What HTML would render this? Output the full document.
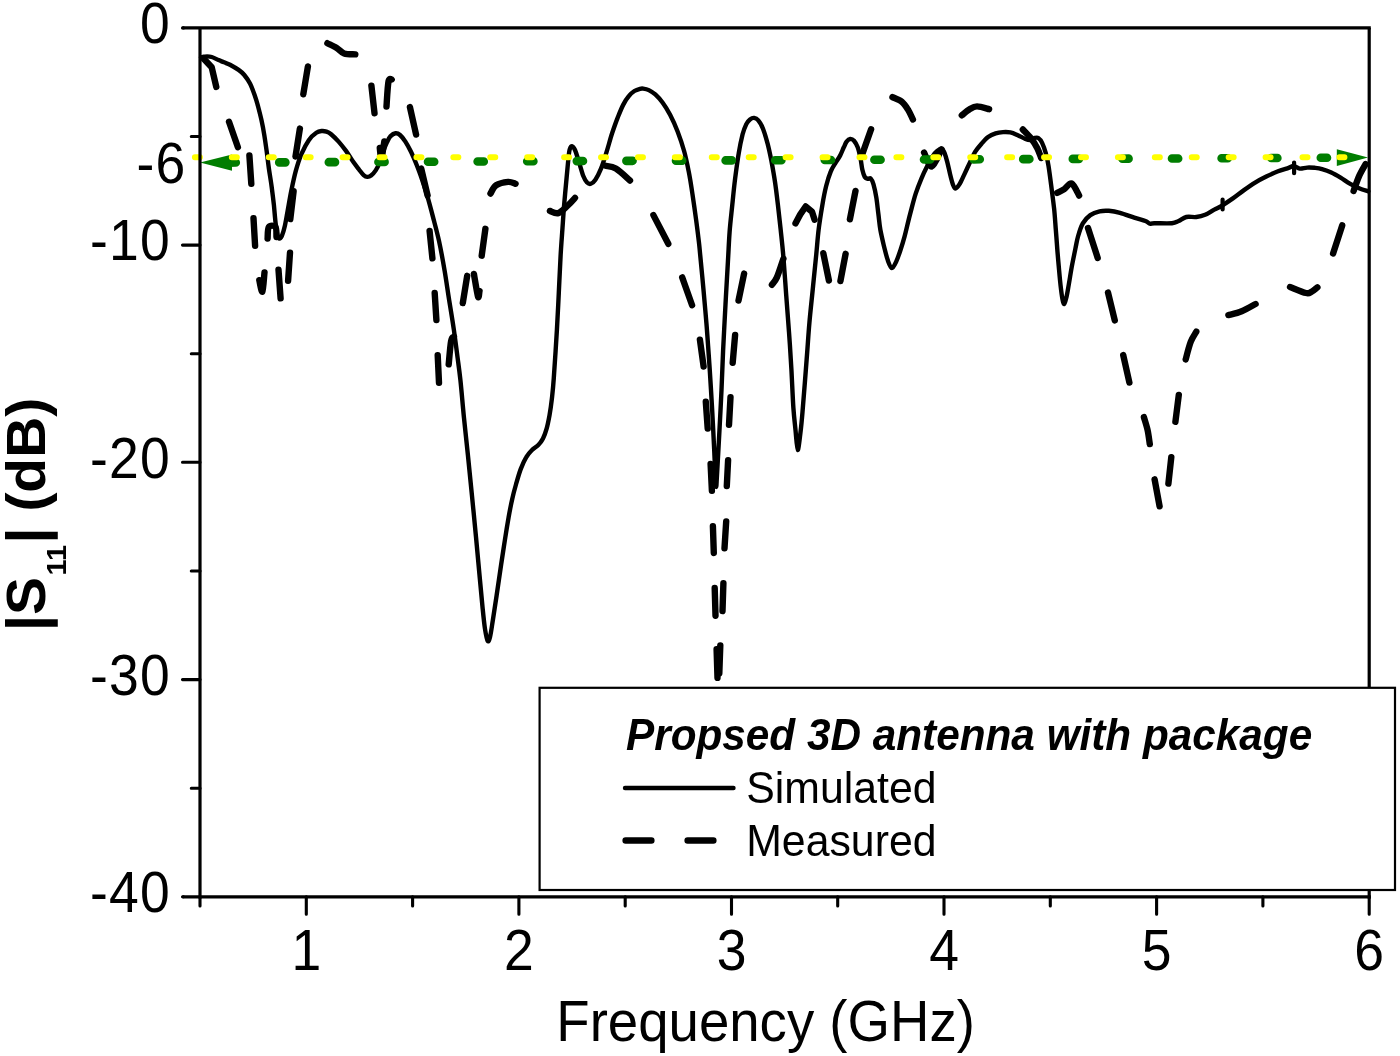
<!DOCTYPE html>
<html><head><meta charset="utf-8"><title>S11 plot</title>
<style>html,body{margin:0;padding:0;background:#fff}svg{display:block}text{font-family:"Liberation Sans",sans-serif;fill:#000}</style>
</head><body>
<svg width="1400" height="1056" viewBox="0 0 1400 1056">
<rect width="1400" height="1056" fill="#fff"/>
<g fill="none" stroke="#000" stroke-linecap="round" stroke-linejoin="round">
<path stroke-width="4.4" d="M201.0,57.3C201.5,57.2 203.0,56.9 204.0,56.7C205.0,56.6 205.8,56.4 207.1,56.4C208.4,56.4 209.8,56.4 211.7,57.0C213.6,57.6 216.5,59.2 218.6,60.1C220.7,61.0 222.1,61.5 224.0,62.3C225.9,63.1 227.6,63.4 230.0,64.7C232.4,66.0 236.2,68.2 238.6,69.9C241.0,71.6 242.4,72.7 244.3,75.0C246.2,77.3 248.3,80.3 250.0,83.6C251.7,86.9 253.3,91.4 254.6,95.0C255.9,98.6 256.7,101.2 257.8,105.4C258.9,109.6 260.4,115.3 261.5,120.3C262.6,125.2 263.5,130.2 264.3,135.1C265.1,140.0 265.7,144.4 266.5,150.0C267.3,155.6 268.0,162.4 268.9,168.6C269.8,174.8 270.9,181.0 271.7,187.1C272.5,193.2 273.2,199.0 273.9,205.0C274.5,211.0 275.0,218.0 275.6,222.9C276.2,227.8 276.7,231.9 277.3,234.5C277.9,237.1 278.5,238.4 279.3,238.6C280.1,238.8 281.0,237.8 281.9,235.8C282.8,233.8 283.8,230.6 284.7,226.6C285.6,222.6 286.4,217.6 287.5,211.7C288.6,205.8 289.8,198.1 291.2,191.3C292.6,184.5 294.1,177.1 295.8,170.9C297.5,164.7 299.2,159.2 301.4,154.1C303.6,149.0 306.3,143.8 308.8,140.2C311.3,136.6 314.1,134.3 316.3,132.8C318.5,131.3 320.1,131.2 321.8,131.0C323.5,130.8 324.9,131.1 326.5,131.6C328.1,132.1 329.1,132.5 331.1,134.2C333.1,135.9 336.1,138.8 338.6,141.6C341.1,144.4 343.5,147.5 346.0,150.9C348.5,154.3 351.2,159.0 353.4,162.1C355.6,165.2 357.3,167.3 359.0,169.5C360.7,171.7 362.2,173.9 363.6,175.1C365.0,176.3 366.1,176.8 367.3,176.9C368.6,177.0 369.7,176.7 371.1,175.6C372.5,174.5 374.3,172.5 375.7,170.4C377.1,168.3 378.2,166.1 379.4,163.0C380.6,159.9 381.9,155.2 383.1,151.8C384.3,148.4 385.6,145.2 386.8,142.6C388.1,140.0 389.2,137.6 390.6,136.1C392.1,134.6 393.9,133.5 395.5,133.3C397.1,133.1 398.4,133.6 400.0,135.0C401.6,136.4 403.6,138.8 405.4,141.6C407.2,144.4 409.1,147.9 411.0,151.8C412.9,155.7 414.8,160.2 416.6,164.8C418.5,169.5 420.2,174.3 422.1,179.7C424.0,185.1 425.8,190.9 427.7,197.4C429.6,203.9 431.5,211.3 433.4,218.6C435.3,225.8 437.1,232.2 439.0,240.9C440.9,249.6 442.9,260.7 444.6,270.6C446.3,280.5 447.6,290.4 449.2,300.3C450.8,310.2 452.5,320.4 453.9,330.0C455.3,339.6 456.5,349.5 457.6,357.8C458.7,366.1 459.3,370.0 460.4,380.0C461.5,390.0 462.7,405.3 464.0,418.0C465.3,430.7 466.7,443.0 468.0,456.0C469.3,469.0 470.7,482.5 472.0,496.0C473.3,509.5 474.8,523.8 476.0,537.0C477.2,550.2 478.4,563.3 479.5,575.0C480.6,586.7 481.6,598.0 482.5,607.0C483.4,616.0 484.1,623.3 485.0,629.0C485.9,634.7 486.8,639.7 487.7,641.0C488.6,642.3 489.2,640.1 490.1,636.6C491.0,633.1 491.8,626.7 492.9,619.9C494.0,613.1 495.2,605.0 496.6,595.7C498.0,586.4 499.8,573.4 501.2,564.1C502.6,554.8 503.7,547.8 504.9,540.0C506.1,532.2 507.4,524.3 508.6,517.4C509.8,510.5 511.0,504.4 512.3,498.8C513.5,493.2 514.7,488.9 516.1,484.0C517.5,479.1 519.0,473.6 520.7,469.1C522.4,464.6 524.4,460.2 526.3,457.1C528.1,454.0 529.8,452.2 531.8,450.2C533.8,448.2 536.4,446.9 538.3,445.0C540.2,443.1 541.6,441.3 543.0,438.5C544.4,435.7 545.6,432.2 546.7,428.3C547.8,424.4 548.6,420.2 549.5,415.3C550.4,410.4 551.2,404.8 551.9,398.6C552.6,392.4 553.0,389.4 553.8,378.0C554.6,366.6 556.1,344.2 556.9,330.0C557.7,315.8 558.2,305.3 558.8,292.9C559.4,280.5 560.0,266.5 560.6,255.7C561.2,244.9 561.9,236.7 562.5,227.9C563.1,219.1 563.6,211.3 564.3,203.0C565.0,194.7 565.9,185.4 566.6,177.8C567.3,170.2 568.0,162.2 568.5,157.4C569.0,152.6 569.2,150.9 569.8,149.1C570.4,147.2 571.3,146.2 572.2,146.3C573.1,146.5 573.9,147.5 575.0,150.0C576.1,152.5 577.3,156.8 578.7,161.1C580.1,165.4 581.9,172.4 583.3,176.0C584.7,179.6 585.9,181.2 587.1,182.5C588.4,183.8 589.4,184.3 590.8,183.8C592.2,183.3 593.7,182.2 595.4,179.7C597.1,177.2 599.1,173.2 601.0,168.6C602.9,163.9 604.8,157.7 606.6,151.8C608.5,145.9 610.2,139.0 612.1,133.3C614.0,127.6 615.8,122.4 617.7,117.6C619.6,112.8 621.4,108.2 623.3,104.6C625.1,101.0 626.9,98.5 628.8,96.2C630.6,93.9 632.5,92.2 634.4,91.0C636.3,89.8 638.5,89.2 640.0,88.8C641.5,88.4 641.7,88.4 643.2,88.6C644.7,88.8 646.8,89.1 648.8,90.1C650.8,91.1 653.0,92.3 655.3,94.4C657.6,96.5 660.2,99.3 662.7,102.7C665.2,106.1 667.6,110.0 670.1,114.8C672.6,119.6 675.3,125.5 677.6,131.5C679.9,137.5 682.2,144.3 684.1,151.0C686.0,157.7 687.3,164.3 688.7,171.4C690.1,178.5 691.2,185.6 692.4,193.7C693.6,201.8 695.0,211.6 696.1,219.7C697.2,227.8 698.2,236.1 698.9,242.0C699.6,247.9 699.4,246.8 700.2,255.0C701.0,263.2 702.6,279.7 703.6,291.0C704.6,302.3 705.5,312.2 706.4,323.0C707.3,333.8 708.0,344.8 708.8,356.0C709.6,367.2 710.4,379.3 711.0,390.0C711.6,400.7 712.2,410.0 712.7,420.0C713.2,430.0 713.8,440.8 714.2,450.0C714.6,459.2 715.0,468.8 715.3,475.0C715.6,481.2 715.9,487.0 716.2,487.0C716.5,487.0 716.6,481.2 717.0,475.0C717.4,468.8 717.9,459.2 718.4,450.0C718.9,440.8 719.5,430.0 720.0,420.0C720.5,410.0 721.0,401.6 721.5,390.0C722.0,378.4 722.4,365.0 723.1,350.7C723.8,336.4 724.7,319.1 725.5,304.3C726.3,289.5 727.2,274.1 727.9,262.0C728.6,249.9 728.9,241.5 729.6,232.0C730.3,222.5 731.4,213.7 732.3,204.8C733.2,195.9 734.0,187.5 735.1,178.8C736.2,170.2 737.5,160.3 738.8,152.9C740.0,145.5 741.4,139.1 742.6,134.3C743.9,129.5 745.1,126.6 746.3,124.1C747.5,121.6 748.7,120.4 750.0,119.4C751.3,118.4 752.7,117.7 754.1,117.9C755.5,118.1 756.8,118.6 758.3,120.4C759.8,122.2 761.5,124.8 763.0,128.7C764.5,132.6 766.2,138.3 767.6,143.6C769.0,148.9 770.0,153.8 771.3,160.3C772.5,166.8 774.0,175.2 775.1,182.6C776.2,190.0 777.0,197.1 777.9,204.8C778.8,212.5 779.7,220.3 780.6,229.0C781.5,237.7 782.5,246.0 783.4,257.0C784.3,268.0 785.3,282.5 786.2,295.0C787.1,307.5 788.1,319.7 789.0,332.1C789.9,344.5 790.7,356.7 791.4,369.3C792.1,381.9 792.7,397.9 793.4,408.0C794.1,418.1 794.8,423.0 795.5,430.0C796.2,437.0 796.9,449.6 797.7,450.0C798.5,450.4 799.7,438.6 800.5,432.3C801.3,426.0 801.5,424.1 802.5,412.0C803.5,399.9 805.5,374.9 806.6,360.0C807.8,345.1 808.3,335.3 809.4,322.9C810.5,310.5 812.0,297.2 813.1,285.7C814.2,274.2 815.4,263.6 816.3,254.1C817.2,244.7 817.7,237.2 818.7,229.0C819.7,220.8 821.2,211.9 822.4,204.8C823.6,197.7 824.7,191.9 826.1,186.3C827.5,180.7 829.2,175.3 830.8,171.4C832.3,167.5 833.8,165.7 835.4,163.1C837.0,160.5 838.7,158.2 840.1,155.6C841.5,153.0 842.7,149.6 843.8,147.3C844.9,145.0 845.5,143.1 846.6,141.7C847.7,140.3 849.1,139.1 850.3,138.9C851.5,138.8 852.8,139.4 854.0,140.8C855.2,142.2 856.6,144.4 857.7,147.3C858.8,150.2 859.7,154.7 860.5,158.4C861.3,162.1 861.6,166.5 862.3,169.6C863.0,172.7 863.9,175.5 864.8,177.0C865.7,178.5 866.9,178.6 867.9,178.8C868.9,179.1 869.8,177.6 870.7,178.5C871.6,179.4 872.6,181.2 873.5,184.4C874.4,187.6 875.5,192.5 876.3,197.4C877.1,202.3 877.7,208.7 878.4,214.1C879.1,219.5 879.4,224.6 880.4,230.0C881.4,235.4 882.9,241.6 884.1,246.7C885.4,251.8 886.6,257.0 887.9,260.6C889.2,264.2 890.5,267.9 891.9,268.1C893.3,268.3 894.8,264.6 896.2,261.6C897.6,258.6 899.1,254.2 900.5,250.0C901.9,245.8 903.0,242.4 904.6,236.4C906.2,230.4 908.2,221.2 910.1,214.1C912.0,207.0 913.8,199.6 915.7,193.7C917.6,187.8 919.4,183.3 921.3,178.8C923.2,174.3 925.0,170.5 926.9,166.8C928.8,163.1 930.7,159.2 932.4,156.6C934.1,154.0 935.5,152.2 937.1,151.0C938.7,149.8 940.5,148.8 941.7,149.1C942.9,149.4 943.6,150.7 944.5,152.9C945.4,155.1 946.4,158.6 947.3,162.1C948.2,165.6 949.2,170.5 950.1,174.2C951.0,177.9 952.0,182.0 952.9,184.4C953.8,186.8 954.5,188.5 955.6,188.5C956.7,188.5 958.0,186.6 959.4,184.4C960.8,182.2 962.3,178.7 964.0,175.1C965.7,171.5 967.8,167.0 969.6,163.1C971.5,159.2 973.1,155.2 975.1,151.9C977.1,148.7 979.4,146.1 981.6,143.6C983.8,141.1 985.8,138.8 988.1,137.1C990.4,135.4 993.1,134.2 995.6,133.4C998.1,132.6 1000.5,132.3 1003.0,132.1C1005.5,131.9 1007.9,131.9 1010.4,132.4C1012.9,132.9 1015.3,134.1 1017.8,135.2C1020.3,136.3 1023.1,138.1 1025.3,138.9C1027.5,139.7 1029.2,140.1 1030.8,139.9C1032.3,139.8 1033.3,138.3 1034.6,138.0C1035.8,137.7 1037.1,137.2 1038.3,138.0C1039.5,138.8 1040.8,140.1 1042.0,142.6C1043.2,145.1 1044.6,149.0 1045.7,152.9C1046.8,156.8 1047.6,160.3 1048.5,165.9C1049.4,171.5 1050.4,179.2 1051.3,186.3C1052.2,193.4 1053.3,201.2 1054.1,208.6C1054.9,216.0 1055.3,223.6 1055.9,230.8C1056.5,238.0 1057.0,245.8 1057.5,252.0C1058.0,258.2 1058.4,262.4 1058.9,268.0C1059.4,273.6 1060.0,280.6 1060.6,285.7C1061.2,290.8 1061.8,295.7 1062.4,298.7C1063.0,301.7 1063.6,304.2 1064.3,303.9C1065.0,303.6 1065.7,300.2 1066.5,296.9C1067.3,293.6 1068.0,288.9 1068.9,283.9C1069.8,278.9 1070.6,273.0 1071.7,267.1C1072.8,261.2 1074.4,253.7 1075.4,248.6C1076.5,243.5 1076.8,240.7 1078.0,236.5C1079.2,232.3 1080.8,227.0 1082.8,223.4C1084.8,219.8 1087.5,217.1 1090.3,215.1C1093.1,213.1 1096.5,212.0 1099.6,211.3C1102.7,210.6 1105.4,210.6 1108.8,210.8C1112.2,211.1 1115.8,211.7 1120.0,212.8C1124.2,214.0 1130.1,216.3 1134.3,217.7C1138.5,219.1 1142.8,220.0 1145.4,221.0C1148.0,222.0 1148.3,223.3 1149.8,223.7C1151.3,224.1 1150.5,223.3 1154.2,223.2C1157.9,223.1 1167.8,223.6 1171.9,223.2C1176.0,222.8 1176.2,222.0 1178.6,221.0C1181.0,220.0 1183.3,217.7 1186.3,217.0C1189.2,216.3 1193.2,217.4 1196.3,217.0C1199.4,216.6 1202.1,216.0 1205.1,214.8C1208.1,213.6 1211.5,211.1 1214.3,209.6C1217.1,208.1 1218.6,207.7 1221.7,205.8C1224.8,203.9 1229.2,201.0 1232.9,198.4C1236.6,195.8 1240.3,192.7 1244.0,190.1C1247.7,187.5 1251.4,184.9 1255.1,182.6C1258.8,180.3 1262.6,178.3 1266.3,176.5C1270.0,174.7 1273.7,172.9 1277.4,171.5C1281.1,170.1 1285.9,168.7 1288.6,167.8C1291.3,166.9 1291.8,165.9 1293.6,166.0C1295.4,166.1 1297.5,168.3 1299.7,168.6C1302.0,168.9 1304.6,167.7 1307.1,167.6C1309.6,167.5 1312.1,167.6 1314.6,167.8C1317.1,168.1 1319.2,168.3 1322.0,169.1C1324.8,169.9 1328.2,171.0 1331.3,172.4C1334.4,173.8 1337.5,175.7 1340.6,177.6C1343.7,179.5 1346.7,181.8 1349.8,183.6C1352.9,185.4 1356.0,186.9 1359.1,188.2C1362.2,189.5 1366.9,190.9 1368.4,191.4"/>
<path stroke-width="4.2" d="M1222.6,199.5V209.5M1294.1,162.5V173.2"/>
<path stroke-width="6.4" d="M203.5,58.5L211.7,67.3L216.3,87M229.0,121.8L237.9,147.2M249.4,155.5L251.3,183.7M253.5,218.2L255.1,245.8M259.3,280.2C259.8,282.1 261.5,293.0 262.4,291.7C263.3,290.4 264.1,275.6 264.5,272.4M267.6,238.5C267.8,236.6 267.5,228.9 268.8,227.0C270.1,225.1 274.2,225.3 275.5,227.0C276.8,228.7 276.3,235.3 276.5,237.0M278.5,269.8L280.6,298.4M288.1,280.7L290.0,252.6M290.3,219.1L293.6,191.3M295.5,156.5L299.9,128.6M303.3,94.3L307.9,66.4M327.4,43.2C328.9,44.0 333.9,46.2 336.7,47.9C339.5,49.6 341.0,52.3 344.1,53.4C347.2,54.5 353.4,54.2 355.3,54.4M371.4,85.6L374.5,113.2M379.8,148.0C380.0,150.0 380.7,159.7 381.2,160.0C381.7,160.3 382.5,153.1 383.0,150.0C383.5,146.9 384.1,142.9 384.3,141.5M386.5,106.5C386.8,102.3 387.6,86.0 388.5,81.5C389.4,77.0 391.2,79.9 391.7,79.6M409.9,107.0L416.1,134.6M421.2,168.5L427.6,195.5M429.6,231.0L432.4,258.3M434.7,293.0L436.4,320.0M437.7,355.1L439.0,382.9M448.7,364.3C449.1,360.4 450.2,345.7 451.1,341.1C452.0,336.5 453.4,337.3 453.9,336.5M462.8,303.1L467.2,275.8M473.9,273.9C474.6,277.7 477.1,293.8 478.0,296.6C478.9,299.5 479.2,291.9 479.5,291.0M481.7,255.7L485.4,228.8M490.5,193.6C491.4,192.2 493.2,187.2 496.1,185.3C499.0,183.4 504.9,182.2 508.1,181.9C511.4,181.7 514.4,183.5 515.6,183.8M549.9,210.9C551.3,211.3 555.3,214.0 558.3,213.1C561.2,212.2 564.8,208.2 567.6,205.7C570.4,203.2 573.8,199.2 575.0,197.9M605.6,165.8C607.3,166.3 611.7,166.2 615.8,168.6C619.9,171.0 627.6,178.5 630.0,180.5M653.4,215.1L668.3,243.8M682.2,277.4L692.1,305.2M699.9,339.6L703.6,366.5M705.8,401.8L707.7,428.6M710.6,463.9L711.9,490.8M712.9,526.1L713.8,553.0M714.7,588.0L715.5,615.7M716.6,649.1L717.5,677.9M720.3,645.4L719.3,673.3M723.4,583.2L722.5,611.1M726.2,521.4L724.5,548.3M728.1,460.1L726.8,486.1M730.5,397.1L729.0,424.9M735.1,334.9L732.7,362.8M744.1,273.6L738.5,300.6M771.9,284.8C772.7,283.6 775.0,281.7 776.9,277.4C778.8,273.1 782.3,261.9 783.4,258.8M795.5,223.4Q799.5,214.5 805.7,206.5L812,211.7L814.6,219.7M823.3,253.2L828.9,280.5M840.4,281.1L845.6,253.8M849.9,219.3L855.5,190.9M861.4,156.6L871.1,129.3M892.5,97.1C894.0,97.9 899.2,99.6 901.8,101.8C904.4,104.0 906.4,107.2 908.3,110.1C910.1,113.0 912.1,117.9 912.9,119.4M924.1,152.5C925.4,154.8 928.9,167.1 931.8,166.6C934.7,166.1 939.9,152.2 941.5,149.3M961.8,115.3C963.1,114.3 967.1,110.7 969.6,109.2C972.1,107.7 973.8,106.4 977.0,106.4C980.2,106.4 987.1,108.7 989.1,109.2M1022.8,129.5C1024.1,130.9 1028.4,134.9 1030.8,138.0C1033.2,141.1 1035.6,144.9 1037.3,148.2C1039.0,151.5 1040.5,156.4 1041.2,158.0M1057.2,192.8C1058.4,192.2 1061.9,190.7 1064.3,189.1C1066.7,187.5 1069.2,182.4 1071.7,183.5C1074.2,184.6 1077.9,193.6 1079.1,195.6M1088.0,228.0L1097.7,257.9M1108.0,292.6L1114.8,320.4M1123.2,355.0L1129.4,382.6M1143.9,417.1C1144.5,419.3 1146.6,425.6 1147.6,430.1C1148.6,434.6 1149.4,441.8 1149.8,444.1M1154.6,479.3L1159.6,506.3M1168.4,483.6L1171.3,457.1M1175.4,421.8L1178.8,394.9M1185.7,359.4C1186.5,356.4 1189.0,346.3 1190.8,341.7C1192.6,337.1 1195.4,333.4 1196.3,331.7M1228.4,315.1C1230.6,314.5 1237.2,313.2 1241.7,311.3C1246.2,309.4 1253.3,305.2 1255.6,304.0M1290.0,287.0C1292.7,288.0 1302.3,292.2 1305.9,293.0C1309.5,293.8 1309.5,292.8 1311.4,291.9C1313.3,291.0 1316.4,288.1 1317.4,287.4M1333.1,253.5L1342.2,225.4M1353.6,191.0C1354.5,188.5 1357.1,180.6 1359.1,176.1C1361.1,171.6 1364.5,166.1 1365.6,164.1"/>
</g>
<g stroke-linecap="round" fill="none">
<path stroke="#007d00" stroke-width="8.6" stroke-dasharray="6.2 43.4" d="M229.6,162.6L1368,157.6"/>
</g>
<path fill="#007d00" d="M200,162.6L232,154.4V170.8Z"/>
<path fill="#007d00" d="M1368,157.6L1336.8,149.2V166Z"/>
<path stroke="#ffff00" stroke-linecap="round" fill="none" stroke-width="6" stroke-dasharray="5 31.92" d="M194.9,157.2H1368"/>
<g stroke="#000" stroke-width="3.2" fill="none" stroke-linecap="butt">
<path d="M182.5,27.9H1370.8"/>
<path d="M200.0,27.9V898.4"/>
<path d="M1369.2,27.9V898.4"/>
<path d="M182.5,896.8H1370.8"/>
</g>
<g stroke="#000" stroke-width="3.1" fill="none" stroke-linecap="round">
<path d="M182.5,27.9h1M182.5,896.8h1M191.3,136.5H200.0M182.5,245.1H200.0M191.3,353.7H200.0M182.5,462.3H200.0M191.3,571.0H200.0M182.5,679.6H200.0M191.3,788.2H200.0M306.3,896.8V914.3M518.9,896.8V914.3M731.5,896.8V914.3M944.0,896.8V914.3M1156.6,896.8V914.3M1369.2,896.8V914.3M200.0,896.8V906.0M412.6,896.8V906.0M625.2,896.8V906.0M837.7,896.8V906.0M1050.3,896.8V906.0M1262.9,896.8V906.0"/>
</g>
<text transform="translate(170.9,43.1) scale(1,1.077)" font-size="53.5" text-anchor="end" letter-spacing="1.2">0</text>
<text transform="translate(170.9,260.3) scale(1,1.077)" font-size="53.5" text-anchor="end" letter-spacing="1.2">-10</text>
<text transform="translate(170.9,477.5) scale(1,1.077)" font-size="53.5" text-anchor="end" letter-spacing="1.2">-20</text>
<text transform="translate(170.9,694.8) scale(1,1.077)" font-size="53.5" text-anchor="end" letter-spacing="1.2">-30</text>
<text transform="translate(170.9,912.0) scale(1,1.077)" font-size="53.5" text-anchor="end" letter-spacing="1.2">-40</text>
<text transform="translate(186.5,183.0) scale(1,1.077)" font-size="53.5" text-anchor="end" letter-spacing="1.2">-6</text>
<text transform="translate(306.9,969.6) scale(1,1.077)" font-size="53.5" text-anchor="middle" letter-spacing="1.2">1</text>
<text transform="translate(519.5,969.6) scale(1,1.077)" font-size="53.5" text-anchor="middle" letter-spacing="1.2">2</text>
<text transform="translate(732.1,969.6) scale(1,1.077)" font-size="53.5" text-anchor="middle" letter-spacing="1.2">3</text>
<text transform="translate(944.6,969.6) scale(1,1.077)" font-size="53.5" text-anchor="middle" letter-spacing="1.2">4</text>
<text transform="translate(1157.2,969.6) scale(1,1.077)" font-size="53.5" text-anchor="middle" letter-spacing="1.2">5</text>
<text transform="translate(1369.8,969.6) scale(1,1.077)" font-size="53.5" text-anchor="middle" letter-spacing="1.2">6</text>
<text transform="translate(765.6,1040.8) scale(1,1.045)" font-size="54.6" text-anchor="middle">Frequency (GHz)</text>
<text transform="translate(44.8,631) rotate(-90) scale(1,0.975)" font-size="57" font-weight="bold">|S<tspan font-size="29" dy="21.5" dx="1.5">11</tspan><tspan dy="-21.5" dx="1.5">| (dB)</tspan></text>
<rect x="539.6" y="687.8" width="855.4" height="202.2" fill="#fff" stroke="#000" stroke-width="2.2"/>
<text transform="translate(626.0,750.0) scale(1,1.045)" font-size="42.3" text-anchor="start" font-weight="bold" font-style="italic">Propsed 3D antenna with package</text>
<text transform="translate(746.2,803.0) scale(1,1.045)" font-size="42.8" text-anchor="start">Simulated</text>
<text transform="translate(746.2,855.5) scale(1,1.045)" font-size="42.8" text-anchor="start">Measured</text>
<path d="M625,788H733.5" stroke="#000" stroke-width="4.4" stroke-linecap="round" fill="none"/>
<path d="M625.6,840.5H651.4M687.6,840.5H713.4" stroke="#000" stroke-width="6.4" stroke-linecap="round" fill="none"/>
</svg>
</body></html>
